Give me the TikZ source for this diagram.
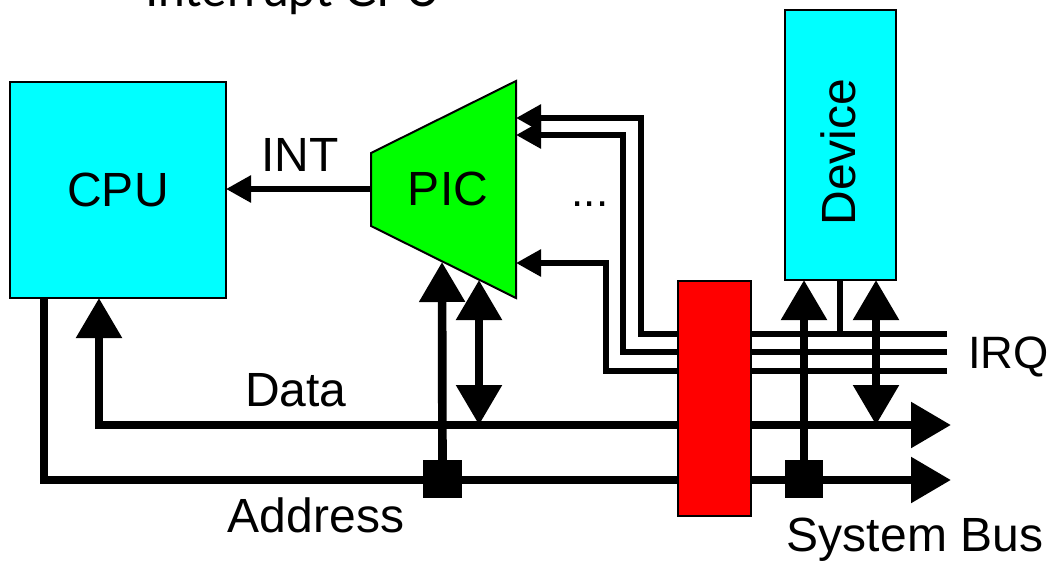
\documentclass[tikz,border=0pt]{standalone}
\usepackage{fontspec}
\setmainfont{Liberation Sans}
\newfontfamily\topfont{Lato}
\usetikzlibrary{arrows.meta}
\definecolor{devcyan}{RGB}{0,255,255}
\definecolor{picgreen}{RGB}{0,255,0}
\definecolor{busred}{RGB}{255,0,0}
\tikzset{
  x=0.75pt,y=-0.75pt,
  box/.style={draw=black,line width=1.5pt,minimum width=#1,inner sep=0pt,outer sep=0pt},
  lbl/.style={font=\fontsize{36}{38}\selectfont,inner sep=0pt,text=black},
  thin wire/.style={line width=4.3pt,line cap=butt,line join=miter},
  bus wire/.style={line width=6.5pt,line cap=butt,line join=miter},
  small tip/.style={-{Triangle[length=18.75pt,width=19.5pt]}},
  big tip/.style={-{Triangle[length=30pt,width=33pt]}},
  both tip/.style={{Triangle[length=30pt,width=33pt]}-{Triangle[length=30pt,width=33pt]}},
  junction/.style={fill=black,draw=none,minimum size=29pt,inner sep=0pt},
}
\begin{document}
\begin{tikzpicture}
\useasboundingbox (0,0) rectangle (1048,565);
\clip (0,0) rectangle (1048,565);
\fill[white] (0,0) rectangle (1048,565);

% cut-off title
\node[anchor=base,inner sep=0pt,font=\topfont\fontsize{36}{38}\selectfont] (title) at (293,6) {Interrupt CPU};

% coordinates
\coordinate (irqA) at (947,334);
\coordinate (irqB) at (947,352);
\coordinate (irqC) at (947,371);
\coordinate (picA) at (516,118);
\coordinate (picB) at (516,135);
\coordinate (picC) at (516,263);
\coordinate (picInt) at (371,189);
\coordinate (cpuInt) at (226,189);
\coordinate (busD) at (951,425);
\coordinate (busA) at (951,480);

% wires behind boxes
\draw[thin wire,small tip] (irqA) -- (641,334) -- (641,118) -- (picA);
\draw[thin wire,small tip] (irqB) -- (623,352) -- (623,135) -- (picB);
\draw[thin wire,small tip] (irqC) -- (606,371) -- (606,263) -- (picC);
\draw[bus wire,big tip] (95,425) -- (busD);
\draw[bus wire,big tip] (44,298) -- (44,480) -- (busA);
\draw[bus wire,big tip] (99,429) -- (99,298);

% boxes
\node[box=162pt,minimum height=162pt,fill=devcyan] (cpu) at (118,190) {};
\node[box=83.25pt,minimum height=202.5pt,fill=devcyan] (device) at (840.5,145) {};
\node[box=54.75pt,minimum height=176.25pt,fill=busred] (bridge) at (714.5,398.5) {};
\draw[line width=1.5pt,fill=picgreen] (371,153) -- (516,81) -- (516,298) -- (371,226) -- cycle;

% INT
\draw[thin wire,small tip] (picInt) -- (cpuInt);

% vertical connections
\node[junction] (jA) at (442.5,479) {};
\node[junction] (jB) at (804,479) {};
\draw[bus wire,big tip] (jA.center) -- (442,262);
\draw[bus wire,both tip] (479,425) -- (479,280);
\draw[bus wire,big tip] (jB.center) -- (804,280);
\draw[bus wire,both tip] (876,425) -- (876,280);
\draw[thin wire] (840,280) -- (840,334);

% labels
\node[lbl] (lcpu) at (118,190) {CPU};
\node[lbl] (lpic) at (448,189) {PIC};
\node[lbl] (lint) at (300,155) {INT};
\node[lbl,font=\fontsize{33}{36}\selectfont] (ldots) at (590,204) {...};
\node[lbl,anchor=base] (ldata) at (296,406) {Data};
\node[lbl,anchor=base] (laddr) at (316,532) {Address};
\node[lbl,anchor=base] (lsys) at (915,551) {System Bus};
\node[lbl,anchor=base,font=\fontsize{34}{36}\selectfont] (lirq) at (1008.5,368) {IRQ};
\node[lbl,rotate=90] (ldev) at (838.5,152) {Device};
\end{tikzpicture}
\end{document}
